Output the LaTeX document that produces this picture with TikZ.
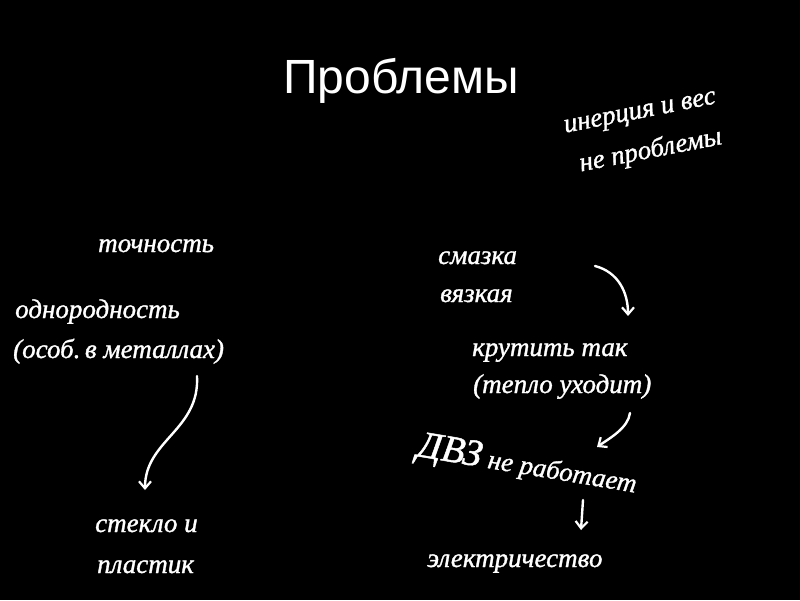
\documentclass[tikz,border=0pt]{standalone}
\usepackage{fontspec}
\setmainfont{Liberation Sans}
\newfontfamily\hand{Liberation Serif}[ItalicFeatures={FakeBold=1.2}]
\usetikzlibrary{arrows.meta}
\begin{document}
\begin{tikzpicture}[x=1pt,y=-1pt,
  note/.style={text=white,font=\hand\itshape\fontsize{27}{41}\selectfont,anchor=base west,inner sep=0pt},
  conn/.style={draw=white,line width=2.4pt,line cap=round,-{Straight Barb[length=7pt,width=12pt,line width=2.2pt]}}]
\fill[black] (0,0) rectangle (800,600);
\useasboundingbox (0,0) rectangle (800,600);
\node[text=white,font=\fontsize{48}{56}\selectfont,anchor=base,inner sep=0pt] (title) at (401,93) {Проблемы};
\node[note,rotate=11,align=left] (iner) at (573,173) {инерция и вес\\\hspace*{8pt}не проблемы};
\node[note] (toch) at (98,252) {точность};
\node[note] (odn) at (15,318) {однородность};
\node[note] (met) at (13,358) {(особ.\,в металлах)};
\node[note] (stek) at (95,532) {стекло и};
\node[note] (plast) at (97,573) {пластик};
\node[note] (smaz) at (438,264) {смазка};
\node[note] (vyaz) at (440,302) {вязкая};
\node[note] (krut) at (472,356) {крутить так};
\node[note] (tepl) at (473,393) {(тепло уходит)};
\node[note,rotate=-9.5] (dvz) at (416,456) {{\fontsize{38}{40}\selectfont ДВЗ} не работает};
\node[note] (elek) at (427,567) {электричество};
\coordinate (a1s) at (197,376);
\coordinate (a1e) at (145,490);
\coordinate (a2s) at (595,266);
\coordinate (a2e) at (628,316);
\coordinate (a3s) at (630,413);
\coordinate (a3e) at (597,447);
\coordinate (a4s) at (583,500);
\coordinate (a4e) at (581,530);
\draw[conn] (a1s) .. controls (200,430) and (145,440) .. (a1e);
\draw[conn] (a2s) .. controls (618,272) and (628,292) .. (a2e);
\draw[conn] (a3s) .. controls (628,428) and (610,438) .. (a3e);
\draw[conn] (a4s) -- (a4e);
\end{tikzpicture}
\end{document}
